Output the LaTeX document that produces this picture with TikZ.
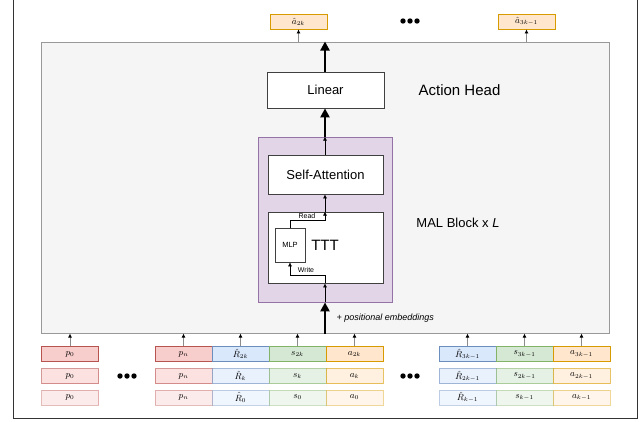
\documentclass[tikz,border=0pt]{standalone}
\usepackage{fontspec}
\setmainfont{Liberation Sans}
\usetikzlibrary{arrows.meta}

\definecolor{redF}{HTML}{F8CECC}\definecolor{redD}{HTML}{B85450}
\definecolor{bluF}{HTML}{DAE8FC}\definecolor{bluD}{HTML}{6C8EBF}
\definecolor{grnF}{HTML}{D5E8D4}\definecolor{grnD}{HTML}{82B366}
\definecolor{orgF}{HTML}{FFE6CC}\definecolor{orgD}{HTML}{D79B00}
\definecolor{purF}{HTML}{E1D5E7}\definecolor{purD}{HTML}{9673A6}
\definecolor{gryF}{HTML}{F5F5F5}\definecolor{gryD}{HTML}{999999}
\definecolor{frameC}{HTML}{333333}

\tikzset{
  block/.style={draw=black!75, fill=white, inner sep=0pt, line width=0.8pt},
  token/.style={draw, inner sep=0pt, minimum width=57pt, minimum height=15pt,
                line width=0.8pt, font=\fontsize{9}{9}\selectfont},
  redtok/.style={token, fill=redF, draw=redD},
  blutok/.style={token, fill=bluF, draw=bluD},
  grntok/.style={token, fill=grnF, draw=grnD},
  orgtok/.style={token, fill=orgF, draw=orgD},
  rowtwo/.style={fill opacity=0.6, draw opacity=0.6, text opacity=1},
  rowthree/.style={fill opacity=0.4, draw opacity=0.4, text opacity=1},
  bigarrow/.style={line width=2.2pt, -{Triangle[length=9pt,width=9pt]}},
  smallarrow/.style={line width=0.6pt, -{Latex[length=4pt,width=4pt]}},
  tokarrow/.style={line width=0.8pt, draw=black!45, -{Latex[length=4pt,width=4pt,black]}},
  dot/.style={fill=black},
}

\begin{document}
\begin{tikzpicture}[x=1pt,y=-1pt]
\useasboundingbox (0,0) rectangle (644,421);

% outer frame (its top edge lies above the page)
\draw[frameC, line width=1pt] (13,-10) -- (13,418) -- (637,418) -- (637,-10);

% action head region
\node[draw=gryD, fill=gryF, line width=1pt, minimum width=568pt, minimum height=291pt, inner sep=0pt] (head) at (325,187.5) {};
\node[font=\fontsize{15}{15}\selectfont] (headlbl) at (459.5,90) {Action Head};

% MAL block
\node[draw=purD, fill=purF, line width=0.8pt, minimum width=134pt, minimum height=165pt, inner sep=0pt] (mal) at (325,219.5) {};
\node[font=\fontsize{13}{13}\selectfont] (mallbl) at (458,223) {MAL Block x \textit{L}};

\node[block, minimum width=117pt, minimum height=36pt, font=\fontsize{13}{13}\selectfont] (lin) at (325.5,90) {Linear};
\node[block, minimum width=115pt, minimum height=39pt, font=\fontsize{13}{13}\selectfont] (sa) at (325.5,174.5) {Self-Attention};
\node[block, minimum width=115pt, minimum height=71pt] (ttt) at (325.5,247.5) {};
\node[font=\fontsize{15}{15}\selectfont] (tttlbl) at (325,245) {TTT};
\node[draw=black!75, fill=white, line width=0.7pt, minimum width=30pt, minimum height=34pt, inner sep=0pt, font=\fontsize{7.5}{7.5}\selectfont] (mlp) at (290,245) {MLP};

% TTT read / write paths
\coordinate (rd) at (325,220);
\coordinate (wr) at (325,275);
\draw[smallarrow] (mlp.north) |- (rd) -- (rd |- ttt.north);
\node[font=\fontsize{7}{7}\selectfont] (readlbl) at (307,216) {Read};
\draw[smallarrow] (wr |- ttt.south) -- (wr) -| (mlp.south);
\node[font=\fontsize{7}{7}\selectfont] (writelbl) at (306,270) {Write};

% flow inside the block
\draw[smallarrow] (mal.south) -- (mal.south |- ttt.south);
\draw[smallarrow] (mal.south |- ttt.north) -- (mal.south |- sa.south);
\draw[smallarrow] (mal.north |- sa.north) -- (mal.north);

% thick flow through the head
\draw[bigarrow] (head.south) -- (mal.south);
\draw[bigarrow] (mal.north) -- (mal.north |- lin.south);
\draw[bigarrow] (mal.north |- lin.north) -- (head.north);
\node[font=\fontsize{9}{9}\selectfont\itshape, anchor=west] (poslbl) at (333,318) {+ positional embeddings};

% predicted actions
\node[orgtok] (o1) at (298.5,21.5) {$\hat{a}_{2k}$};
\node[orgtok] (o2) at (526.5,21.5) {$\hat{a}_{3k-1}$};
\draw[tokarrow] (o1.south |- head.north) -- (o1.south);
\draw[tokarrow] (o2.south |- head.north) -- (o2.south);
\foreach \dx in {-7,0,7} \fill[dot] (410+\dx,21) circle (2.7pt);

% token rows
\foreach \row/\y/\st/\R/\s/\a/\Rb/\sb/\ab in {
    1/354/{}/{2k}/{2k}/{2k}/{3k-1}/{3k-1}/{3k-1},
    2/376/rowtwo/{k}/{k}/{k}/{2k-1}/{2k-1}/{2k-1},
    3/397.5/rowthree/{0}/{0}/{0}/{k-1}/{k-1}/{k-1}} {
  \node[redtok,\st] (t\row-1) at (70,\y) {$p_0$};
  \node[redtok,\st] (t\row-2) at (183.5,\y) {$p_n$};
  \node[blutok,\st] (t\row-3) at (240.5,\y) {$\hat{R}_{\R}$};
  \node[grntok,\st] (t\row-4) at (297.5,\y) {$s_{\s}$};
  \node[orgtok,\st] (t\row-5) at (354.5,\y) {$a_{\a}$};
  \node[blutok,\st] (t\row-6) at (467.5,\y) {$\hat{R}_{\Rb}$};
  \node[grntok,\st] (t\row-7) at (524.5,\y) {$s_{\sb}$};
  \node[orgtok,\st] (t\row-8) at (581.5,\y) {$a_{\ab}$};
}
\foreach \dx in {-7,0,7} {
  \fill[dot] (127+\dx,376) circle (2.7pt);
  \fill[dot] (410+\dx,376) circle (2.7pt);
}
\foreach \c in {1,...,8}
  \draw[tokarrow] (t1-\c.north) -- (t1-\c.north |- head.south);
\end{tikzpicture}
\end{document}
